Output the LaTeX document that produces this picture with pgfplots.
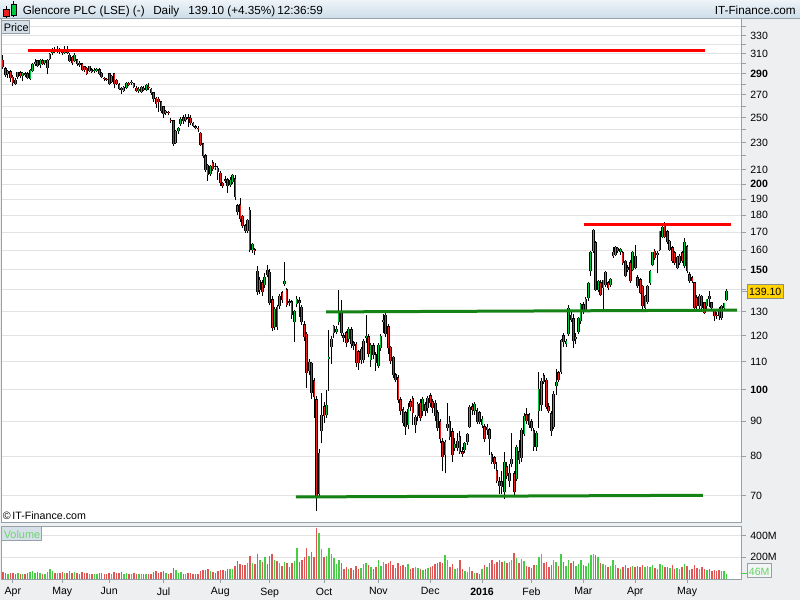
\documentclass[border=0pt]{standalone}
\usepackage{pgfplots}
\pgfplotsset{compat=1.18}
\usepackage{pgfplotstable}
\usepackage{fontspec}
\setmainfont{Liberation Sans}

\definecolor{upgreen}{RGB}{0,200,60}
\definecolor{downred}{RGB}{235,30,30}
\definecolor{volgreen}{RGB}{70,205,70}
\definecolor{volred}{RGB}{225,85,85}
\definecolor{panelbg}{RGB}{237,239,241}
\definecolor{frame}{RGB}{150,160,168}
\definecolor{gridc}{RGB}{226,226,226}
\definecolor{trendgreen}{RGB}{20,130,20}
\definecolor{headtop}{RGB}{238,244,249}
\definecolor{headbot}{RGB}{203,220,232}
\definecolor{boxfill}{RGB}{214,224,232}
\definecolor{taggold}{RGB}{255,212,0}

% daily candles: trading-day index (0 = 1 Apr 2015), open, high, low, close, volume (M)
\pgfplotstableread{
i o h l c v
-4 303.5 308.5 295 296.8 62
-3 295 296.8 287 288.5 58
-2 290 294 286 292 45
-1 292 293.5 282 285.5 52
0 287 289 278.5 281 60
1 284 286 279 280 48
2 287 292 285 291 55
3 291 293 286 288 42
4 288 292 283 290.5 50
5 290 291.5 287 289 44
6 290 292 284.5 286 52
7 285 294.5 284 293.5 65
8 293 300.5 292 299.5 70
9 300 304.5 298 301 58
10 303 304 296.5 297.5 62
11 299 304.5 296 303 55
12 303 305 298.5 300 48
13 301 304 299 303 50
14 296 304.5 290 303 66
15 305 311 303.5 310 88
16 311 316 309 314 72
17 314 317.7 311 313 60
18 313 318 311.5 315 55
19 314.5 316 310 312 58
20 312 314.5 309 311 62
21 311 318 310 313.5 52
22 313 318 309.5 311.5 60
23 309 311 301.5 303 74
24 307 308 299 300.5 58
25 303 311 302 309 66
26 304 305 298 299.5 55
27 300.5 302.5 297 298.5 48
28 300 301 292.5 294 64
29 297 298 292 293.5 56
30 295.5 297 288.5 290.2 60
31 293 298 292 297 50
32 294 295.5 291 292 44
33 293 296 291 293.5 46
34 293 296 291.5 294.5 42
35 294 295.5 288.5 290 55
36 290.5 291.5 285.5 287 52
37 286 287 283 285 48
38 285 286 283 284.5 45
39 290 291 279 280.5 60
40 282 289 281.5 287.5 50
41 290 291 276 280.5 66
42 284 285 279 280.5 52
43 279.5 281 274.5 275.8 58
44 276 277 271.3 274.5 62
45 274 278 272.5 277.4 50
46 276 282 275.5 281 54
47 281 282.5 278 279.5 44
48 281 284 279.5 282 46
49 280.5 281.5 276 277.4 52
50 276.5 278 272.5 274 48
51 274 277 272 275.5 45
52 273 278 272 277 50
53 276.5 278 273.5 275 42
54 275 280 274 278.5 47
55 277 281 275 276 44
56 275.5 276.5 270 272 50
57 272 273 264 266 62
58 267 268 258 262 70
59 266 268 255 264 58
60 264 265 254 256 66
61 259.5 260.5 249.5 253.5 72
62 254 257 252.5 255.5 55
63 255 256 252 254 48
64 248 250 245.5 247.3 60
65 247.5 248.5 227 229 98
66 230 240 229 239 82
67 239 242 237 241 58
68 245 251 243.5 249 62
69 250 252 245 247.5 50
70 248 253 246.5 250.5 48
71 250 253 242 249 54
72 249.5 252 244 245.5 52
73 245.5 246.5 242 243 46
74 242.5 244 240.5 241.5 44
75 241.5 243 238.5 240.5 50
76 237.5 238 227.5 228.5 72
77 229 230 218.5 219.5 80
78 220 221 208.5 210 85
79 213 214 202 206.5 88
80 207 213 205.5 212 76
81 215 217 209 210.7 68
82 212 214.5 210 211.5 60
83 211 212.5 203 208.5 78
84 207.5 209 199 200.7 86
85 200.5 201.5 197.5 199 80
86 203 205.5 201 202.3 72
87 203 204 194 199 95
88 199.5 205 198 202.7 88
89 201.5 207 200 206 92
90 203.5 206 189.5 191.5 120
91 186 187 180.5 181.8 166
92 186.5 191 176 177.6 140
93 179.5 180.5 172.5 173.6 125
94 173.8 175 169.5 171 130
95 170.5 178 169.5 176.7 150
96 183 185 159 160 212
97 160 164 158.5 163.1 150
98 160.4 161.5 157.5 159.5 135
99 149 152 137.5 139 232
100 140 146 138 144.5 180
101 143.5 145 137 139 160
102 142.5 148 141 146 205
103 149.5 152.5 146 147 140
104 148.5 150 133 134 215
105 135.5 137 122 123 230
106 123.5 132 122.5 131 175
107 132 133 122.5 123.5 165
108 132.5 138 131.5 137 150
109 138.5 139.5 134 135.5 120
110 142.8 154 142 144 160
111 140 141 132 133 145
112 134.5 136 132.5 134 110
113 134.5 135.5 127 128.5 150
114 125.5 131 117.5 130 165
115 133.5 137 132 135.5 290
116 135 136.5 128 134 160
117 132 133 124.5 125.5 175
118 124.5 126 118 119.5 200
119 120.5 121.5 100.5 106 290
120 106.5 111 105 109.5 210
121 109.3 110 97 99 250
122 103 104 91 97.5 200
123 96.7 98 66.5 69.6 470
124 70.5 82 69.5 80.5 425
125 87 99 83.5 91.5 280
126 94.5 96 89.5 91.5 200
127 92 100 91 94.7 210
128 111 122.3 99.7 111.3 285
129 115.5 120 109 118.5 230
130 121 124.5 119 123.5 190
131 121.5 124 120.5 122.5 140
132 125.5 140 124.5 130 180
133 130 135.5 120 121 150
134 119.8 121 117.5 119 95
135 121 122 115.5 117 110
136 118.5 123.5 117.5 122.5 90
137 122.5 123.5 115 116.5 100
138 117 118 114.5 116 85
139 116.5 117.5 108 109.5 120
140 113.5 114.5 107 109.5 95
141 110.5 115.5 109 114.5 105
142 110.5 118.5 109.5 117.5 140
143 119 128.5 117 119.5 150
144 119.5 120.5 111.5 113 130
145 110.5 117 108 116 110
146 116 117 111 112.5 90
147 112.5 113.5 106.5 109.5 115
148 108.5 117 107.5 116 175
149 115 120.5 114 119.5 120
150 125.5 129 121 126 160
151 128.5 129.5 119.5 120.7 140
152 123.5 125 113 115 150
153 115.4 116 109 110.3 170
154 111.5 112 104 105.2 130
155 105.2 106 102.5 103.5 100
156 104 105 95.5 96.5 145
157 96.5 97.5 92 93 120
158 93.5 94.5 88.5 89.3 130
159 92.5 93 86 88.3 110
160 88.8 95.5 87.5 93.5 140
161 96 97 93 94.5 90
162 97 98 88.8 92.5 105
163 88.8 92 86.5 90.8 115
164 91.5 96 90 95 100
165 95.5 97 90 91 90
166 93 97.5 91.5 96.5 85
167 95 96 91.5 93 95
168 94 98 92.5 97 100
169 98 99 94.5 95.5 110
170 96 97 92.5 94 120
171 95.5 96.5 90 91.5 140
172 92.5 93.5 87 87.8 150
173 89.8 90.5 83.5 84.8 160
174 83.8 85 76 79.8 145
175 80.2 84.5 75.5 83.5 220
176 87.8 95.5 87 88.8 175
177 89.8 91.5 84.5 85.3 110
178 86.8 88 78.5 80.2 135
179 82.3 85 81.5 83 95
180 82.3 86.5 81.5 84 105
181 85.3 87 80.5 81 180
182 81 82.5 79.8 80.6 90
183 81.6 84 80.8 83.3 70
184 83.8 86.5 83 85.8 65
185 88.3 95 87.8 94 110
186 94.5 95.5 92 93.5 75
187 93 96 92 95 55
188 93 94 89 89.8 60
189 92.5 93 89 89.8 50
190 88.8 91.5 88 90.3 95
191 88.3 89 84 84.8 130
192 87.2 89 86 87.8 110
193 87.2 88 80.2 84.8 150
194 80.2 81 78 78.5 175
195 79.5 80 76.5 78 140
196 76 78.5 73 73.6 160
197 73.2 74.5 70.5 72.4 175
198 73.2 76 70.5 72.2 160
199 70.8 81 69.3 78 170
200 77.2 78.5 74 74.8 145
201 73.6 78 72 75.2 160
202 78 86.5 77 78.8 175
203 75.2 76 70 70.8 240
204 74 83 73.5 82.3 190
205 81 84.5 78 79 150
206 79.5 88 78.5 87 185
207 86.3 92.5 85.5 91.3 170
208 91.8 94 89 90 120
209 91.8 92.5 88 88.8 110
210 89.8 90.5 87 87.8 100
211 87.1 88 81.5 82.6 130
212 82.6 87 81.5 86.3 125
213 93.2 106.2 88 100 200
214 95 104 93 102.6 230
215 104.9 106 102 102.8 150
216 103.2 104 93.8 94.5 160
217 94.3 95.5 92.5 93.2 110
218 92.3 93 85.5 87.1 130
219 88.3 99.5 87.5 98.3 175
220 101.2 107.3 98.3 102.2 155
221 105.8 106.5 102.5 103.2 120
222 106.2 118.5 105.5 118 230
223 120 121 115.5 117.3 160
224 116.5 118.5 115.5 117.5 120
225 120.6 133 120 131.6 180
226 128.5 131 125.5 126.5 150
227 127 129 115 118 165
228 118.5 121 116.5 119 120
229 121.3 128 120.5 127.2 140
230 126 134 125 133.3 175
231 133 134.5 129 130 130
232 131 136.5 130 135.5 120
233 136.3 144 135 143.2 150
234 149 159.5 146.5 159 225
235 159.5 172 158.5 171 230
236 164 165 139.5 140 220
237 140 145 139 144.2 200
238 143.5 145 137 137.8 150
239 141 145 131.5 144.5 140
240 142.5 149 141.5 148.2 130
241 143.3 144.5 140 140.9 110
242 142.5 145.5 141.5 144.9 120
243 156.8 162 156 158.6 175
244 157.7 162.5 157 161.3 130
245 161 162 158.6 159.5 100
246 159 161 157.5 160.5 95
247 158.6 159.5 152.5 153.4 110
248 154.2 155 146 146.6 125
249 150.8 152.5 148.5 149.8 100
250 153.4 155 143.5 144.2 110
251 149.8 159.5 149 158.6 120
252 156.8 163 150 150.8 115
253 145.8 147 141 141.7 120
254 144.9 145.5 138 138.5 110
255 141.7 142.5 131.5 132.4 125
256 131.7 137.5 130.8 137 115
257 134.6 142.5 133.5 141.7 120
258 143.3 149.5 142.5 149 110
259 152.5 159 151.5 158.6 130
260 159.5 160.5 155 156 100
261 157.5 159.5 148 158.5 95
262 160.3 171 159.5 170.3 140
263 167.5 173.5 166.5 172.8 130
264 174 176 166.5 167.5 115
265 170.3 171.5 163.5 164.8 110
266 160.3 165.5 159.5 164.8 100
267 161.3 162.5 153.5 154.2 125
268 158.6 159.5 152.5 153.4 95
269 150.8 157 150 156 100
270 153.4 158 152.5 156.8 90
271 158.6 159.5 153.5 154.2 110
272 151.6 167 150.5 164 140
273 162 163 148 149 120
274 147.4 148.5 143.5 144.2 85
275 145.8 146.5 143.5 144.2 95
276 143.3 144 131 131.7 125
277 136.3 137.5 131.5 132.4 100
278 132.4 138 131.5 137 90
279 137 137.5 131 131.7 110
280 133.9 134.5 129 129.4 95
281 132.4 136 131 135.4 80
282 137 139.5 132 136 90
283 133.9 134.5 131 131.7 70
284 130.3 131.5 126 128.1 85
285 128.5 130 127 128.1 75
286 131 132 126.5 128.2 80
287 127.4 133 126.5 132.4 70
288 131.7 134 130.8 133.5 75
289 135.4 140.5 135 139.1 46
}\glen

\pgfplotsset{
  panel/.style={
    scale only axis, anchor=south west, width=555.5pt,
    xmin=-4.8, xmax=295.1,
    axis background/.style={fill=white},
    axis line style={draw=frame, line width=0.75pt},
    ymajorgrids, grid style={draw=gridc, line width=0.75pt},
    tick align=outside, major tick length=3pt,
    tick style={draw=frame, line width=0.75pt},
    ytick pos=right, yticklabel pos=right,
    ticklabel style={font=\fontsize{7.9}{9}\selectfont, text=black},
  },
  candle/.style 2 args={draw=none, mark=none, forget plot,
    error bars/.cd, y dir=plus, y explicit, error mark=none,
    error bar style={draw=#1, line width=#2}},
}

\begin{document}
\begin{tikzpicture}
\useasboundingbox (0,0) rectangle (600pt,450pt);
\fill[panelbg] (0,0) rectangle (600pt,450pt);
\begin{scope}[x=0.75pt, y=-0.75pt, shift={(0pt,450pt)}]
  \shade[top color=headtop, bottom color=headbot] (0,0) rectangle (800,19);
  \draw[frame, line width=0.75pt] (0,19) -- (800,19);
  % header icon
  \draw[black, line width=0.5pt] (6.3,6.5) -- (6.3,18);
  \filldraw[fill=downred, draw=black, line width=0.5pt] (3.5,9.5) rectangle (9,16.5);
  \draw[black, line width=0.5pt] (13.8,1.5) -- (13.8,17);
  \filldraw[fill=upgreen, draw=black, line width=0.5pt] (11,4) rectangle (16.6,15);
  \begin{scope}[every node/.style={anchor=base west, inner sep=0pt, font=\fontsize{8.8}{10}\selectfont}]
    \node at (22.5,14.5) {Glencore PLC (LSE) (-)};
    \node at (153,14.5) {Daily};
    \node at (188,14.5) {139.10 (+4.35\%)};
    \node at (277,14.5) {12:36:59};
    \node[anchor=base east] at (796,14.5) {IT-Finance.com};
  \end{scope}
\end{scope}

% price panel
\begin{axis}[panel,
  at={(0.75pt,57.75pt)}, height=378pt,
  ymode=log, ymin=63.85, ymax=348.8,
  xtick=\empty,
  ytick={70,80,90,100,110,120,130,140,150,160,170,180,190,200,210,220,230,240,250,260,270,280,290,300,310,320,330,340},
  yticklabels={70,80,90,\textbf{100},110,120,130,{},\textbf{150},160,170,180,190,\textbf{200},210,{},230,{},250,{},270,{},\textbf{290},{},310,{},330,{}},
]
\addplot[candle={black}{0.75pt}] table[x=i, y=l, y error plus expr=\thisrow{h}-\thisrow{l}] {\glen};
\addplot[candle={black}{2pt}]
  table[x=i, y expr={min(\thisrow{o},\thisrow{c})}, y error plus expr={abs(\thisrow{c}-\thisrow{o})+0.3}] {\glen};
\addplot[restrict expr to domain={\thisrow{c}-\thisrow{o}}{0:1000}, candle={upgreen}{0.75pt}]
  table[x=i, y=o, y error plus expr={\thisrow{c}-\thisrow{o}+0.3}] {\glen};
\addplot[restrict expr to domain={\thisrow{o}-\thisrow{c}}{0.0001:1000}, candle={downred}{0.75pt}]
  table[x=i, y=c, y error plus expr={\thisrow{o}-\thisrow{c}}] {\glen};
% trend lines
\addplot[red, line width=2.25pt, forget plot] coordinates {(6.1,314) (280.2,314)};
\addplot[red, line width=2.25pt, forget plot] coordinates {(231.2,174.7) (290.7,174.7)};
\addplot[trendgreen, line width=2.25pt, forget plot] coordinates {(126.8,130) (293.3,130.8)};
\addplot[trendgreen, line width=2.25pt, forget plot] coordinates {(114.6,69.7) (279.4,70.1)};
\end{axis}

% volume panel
\begin{axis}[panel,
  at={(0.75pt,15.75pt)}, height=39.75pt,
  ymin=0, ymax=490,
  xtick={0,20,39,61,84,104,126,148,169,190,210,231,252,273},
  xticklabels={Apr,May,Jun,Jul,Aug,Sep,Oct,Nov,Dec,\textbf{2016},Feb,Mar,Apr,May},
  xtick pos=left,
  ytick={200,400}, yticklabels={200M,400M},
]
\addplot[ycomb, mark=none, volgreen, line width=1.1pt, restrict expr to domain={\thisrow{c}-\thisrow{o}}{0:1000}]
  table[x=i, y=v] {\glen};
\addplot[ycomb, mark=none, volred, line width=1.1pt, restrict expr to domain={\thisrow{o}-\thisrow{c}}{0.0001:1000}]
  table[x=i, y=v] {\glen};
\end{axis}

\begin{scope}[x=0.75pt, y=-0.75pt, shift={(0pt,450pt)}]
  % panel captions
  \filldraw[fill=boxfill, draw=frame, line width=0.75pt] (1.5,21) rectangle (29.5,34);
  \node[anchor=base west, inner sep=0pt, font=\fontsize{8.2}{9}\selectfont] at (3.5,31.5) {Price};
  \filldraw[fill=boxfill, draw=frame, line width=0.75pt] (1.5,527) rectangle (41,541);
  \node[anchor=base west, inner sep=0pt, text=volgreen!80!white, font=\fontsize{8.2}{9}\selectfont] at (3.5,538.5) {Volume};
  \node[anchor=base west, inner sep=0pt, font=\fontsize{8}{9}\selectfont] at (2.5,520) {\textcopyright\,IT-Finance.com};
  % last price tag
  \filldraw[fill=taggold, draw=black!45, line width=0.6pt] (747.5,284.5) rectangle (783,298.5);
  \draw[frame, line width=0.75pt] (741.7,291.5) -- (747.5,291.5);
  \node[anchor=base, inner sep=0pt, font=\fontsize{7.9}{9}\selectfont] at (765.2,295.5) {139.10};
  % last volume tag
  \draw[volgreen, line width=0.75pt] (741.7,574) -- (747.5,574);
  \filldraw[fill=panelbg!60!white, draw=frame, line width=0.75pt] (747.5,564) rectangle (771,578);
  \node[anchor=base, inner sep=0pt, text=volgreen!85!white, font=\fontsize{7.9}{9}\selectfont] at (759.2,575) {46M};
\end{scope}
\end{tikzpicture}
\end{document}
